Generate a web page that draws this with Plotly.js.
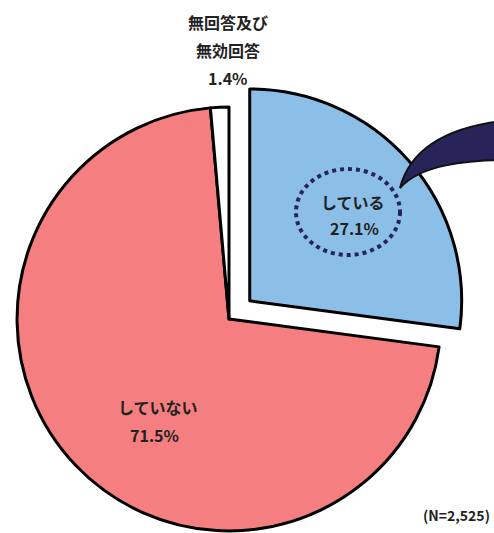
<!DOCTYPE html>
<html>
<head>
<meta charset="utf-8">
<script src="https://cdn.plot.ly/plotly-3.0.1.min.js"></script>
<style>
html,body{margin:0;padding:0;overflow:hidden;width:494px;height:533px;background:#fff;}
#chart{position:absolute;left:-20px;top:0;width:520px;height:560px;}
</style>
</head>
<body>
<div id="chart"></div>
<script>
// ---- data ----
var categories = ['している', 'していない', '無回答及び無効回答'];
var labelLines = [['している'], ['していない'], ['無回答及び', '無効回答']];
var percents = [27.1, 71.5, 1.4];
var sampleNote = '(N=2,525)';

// ---- styling ----
var sliceColors = ['#8cbfe8', '#f47e80', '#ffffff'];
var pulls = [0.13, 0, 0];
var navy = '#27245a';
var textColor = '#222222';
var FONT = '"Noto Sans CJK JP", "Noto Sans", sans-serif';

var W = 520, H = 560, OFFX = 20;
function px(x) { return (x + OFFX) / W; }
function py(y) { return 1 - y / H; }

// label anchor lines (page pixels), one entry per text line
var labelPos = [
  [[353, 202], [354, 228]],
  [[158, 407], [154, 435]],
  [[228, 22], [228, 50], [228, 78]]
];

var annotations = [];
for (var i = 0; i < categories.length; i++) {
  var lines = labelLines[i].concat([percents[i].toFixed(1) + '%']);
  for (var j = 0; j < lines.length; j++) {
    annotations.push({
      xref: 'paper', yref: 'paper',
      x: px(labelPos[i][j][0]), y: py(labelPos[i][j][1]),
      xanchor: 'center', yanchor: 'middle',
      text: '<b>' + lines[j] + '</b>', showarrow: false,
      font: {family: FONT, size: 16, color: textColor}
    });
  }
}
annotations.push({
  xref: 'paper', yref: 'paper', x: px(492), y: py(515),
  xanchor: 'right', yanchor: 'middle', showarrow: false,
  text: '<b>' + sampleNote + '</b>',
  font: {family: FONT, size: 14, color: textColor}
});

function P(x, y) { return px(x).toFixed(5) + ',' + py(y).toFixed(5); }
var tailPath = 'M ' + P(400, 188) +
  ' C ' + P(410, 150) + ' ' + P(445, 126) + ' ' + P(512, 120) +
  ' L ' + P(512, 160) +
  ' C ' + P(465, 160) + ' ' + P(420, 165) + ' ' + P(400, 188) + ' Z';

var shapes = [
  {type: 'path', xref: 'paper', yref: 'paper', path: tailPath,
   fillcolor: navy, line: {color: '#111111', width: 2}},
  {type: 'circle', xref: 'paper', yref: 'paper',
   x0: px(296), x1: px(400), y0: py(255), y1: py(169),
   fillcolor: 'rgba(0,0,0,0)', line: {color: navy, width: 4, dash: '4px,4px'}}
];

var trace = {
  type: 'pie',
  labels: categories,
  values: percents,
  sort: false,
  direction: 'clockwise',
  rotation: 0,
  pull: pulls,
  marker: {colors: sliceColors, line: {color: '#000000', width: 3}},
  textinfo: 'none',
  hoverinfo: 'skip',
  showlegend: false,
  domain: {x: [9.5 / W, 488.5 / W], y: [1 - 558.5 / H, 1 - 79.5 / H]}
};

var layout = {
  width: W, height: H,
  margin: {l: 0, r: 0, t: 0, b: 0},
  paper_bgcolor: '#ffffff',
  showlegend: false,
  annotations: annotations,
  shapes: shapes
};

Plotly.newPlot('chart', [trace], layout, {displayModeBar: false, staticPlot: true});
</script>
</body>
</html>
